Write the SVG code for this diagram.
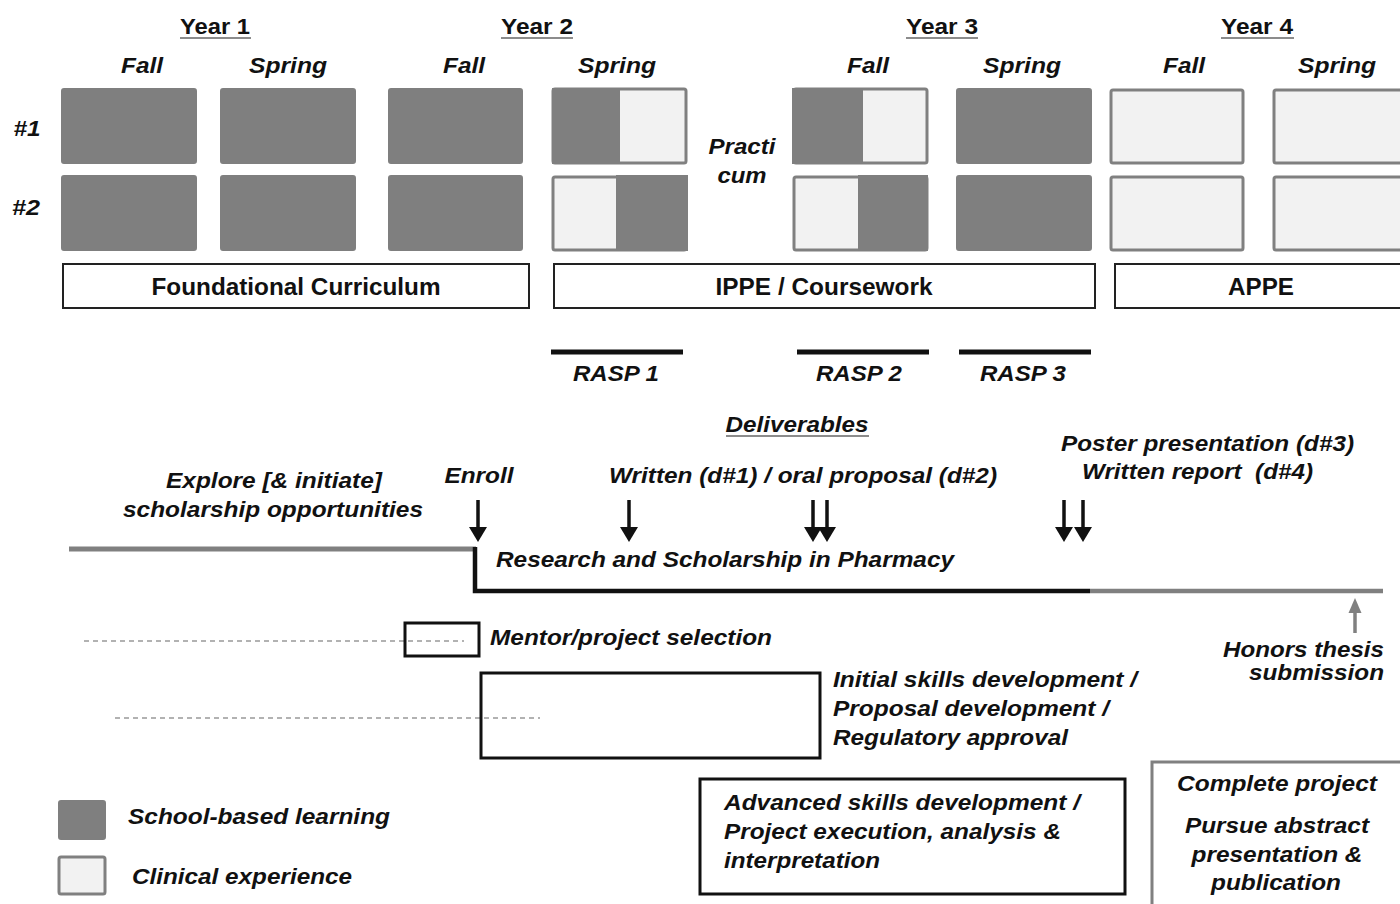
<svg xmlns="http://www.w3.org/2000/svg" width="1400" height="904" viewBox="0 0 1400 904">
<style>
text{font-family:"Liberation Sans",Arial,sans-serif;font-weight:bold;fill:#111;font-size:22.5px}
.i{font-style:italic}
.big{font-size:24px}
.dk{fill:#7f7f7f;stroke:#7f7f7f;stroke-width:2}
.lt{fill:#f2f2f2;stroke:#808080;stroke-width:3}
.ban{fill:#fff;stroke:#222;stroke-width:2}
.bx{fill:none;stroke:#111;stroke-width:3}
.ul{stroke:#666;stroke-width:1.5}
.dash{stroke:#999;stroke-width:1.5;stroke-dasharray:5,4}
</style>
<defs>
<marker id="ah" markerUnits="userSpaceOnUse" markerWidth="16" markerHeight="20" viewBox="0 -10 16 20" refX="0" refY="0" orient="auto"><path d="M0,-9 L15,0 L0,9 z" fill="#111"/></marker>
<marker id="ahg" markerUnits="userSpaceOnUse" markerWidth="16" markerHeight="16" viewBox="0 -8 16 16" refX="0" refY="0" orient="auto"><path d="M0,-6.5 L15,0 L0,6.5 z" fill="#808080"/></marker>
</defs>

<g id="headers">
<text x="215" y="34" text-anchor="middle" textLength="70" lengthAdjust="spacingAndGlyphs">Year 1</text>
<line class="ul" x1="180" y1="38" x2="251" y2="38"/>
<text x="537" y="34" text-anchor="middle" textLength="72" lengthAdjust="spacingAndGlyphs">Year 2</text>
<line class="ul" x1="501" y1="38" x2="573" y2="38"/>
<text x="942" y="34" text-anchor="middle" textLength="72" lengthAdjust="spacingAndGlyphs">Year 3</text>
<line class="ul" x1="906" y1="38" x2="978" y2="38"/>
<text x="1257" y="34" text-anchor="middle" textLength="72" lengthAdjust="spacingAndGlyphs">Year 4</text>
<line class="ul" x1="1221" y1="38" x2="1294" y2="38"/>
<text class="i" x="142" y="73" text-anchor="middle" textLength="42" lengthAdjust="spacingAndGlyphs">Fall</text>
<text class="i" x="288" y="73" text-anchor="middle" textLength="78" lengthAdjust="spacingAndGlyphs">Spring</text>
<text class="i" x="464" y="73" text-anchor="middle" textLength="42" lengthAdjust="spacingAndGlyphs">Fall</text>
<text class="i" x="617" y="73" text-anchor="middle" textLength="78" lengthAdjust="spacingAndGlyphs">Spring</text>
<text class="i" x="868" y="73" text-anchor="middle" textLength="42" lengthAdjust="spacingAndGlyphs">Fall</text>
<text class="i" x="1022" y="73" text-anchor="middle" textLength="78" lengthAdjust="spacingAndGlyphs">Spring</text>
<text class="i" x="1184" y="73" text-anchor="middle" textLength="42" lengthAdjust="spacingAndGlyphs">Fall</text>
<text class="i" x="1337" y="73" text-anchor="middle" textLength="78" lengthAdjust="spacingAndGlyphs">Spring</text>
<text class="i" x="27" y="136" text-anchor="middle" textLength="27" lengthAdjust="spacingAndGlyphs">#1</text>
<text class="i" x="26" y="215" text-anchor="middle" textLength="28" lengthAdjust="spacingAndGlyphs">#2</text>
<text class="i" x="742" y="154" text-anchor="middle" textLength="67" lengthAdjust="spacingAndGlyphs">Practi</text>
<text class="i" x="742" y="183" text-anchor="middle" textLength="49" lengthAdjust="spacingAndGlyphs">cum</text>
</g>

<g id="grid">
<rect class="dk" x="62" y="89" width="134" height="74" rx="2"/>
<rect class="dk" x="221" y="89" width="134" height="74" rx="2"/>
<rect class="dk" x="389" y="89" width="133" height="74" rx="2"/>
<rect class="lt" x="553" y="89" width="133" height="74" rx="2"/>
<rect fill="#7f7f7f" x="552" y="88" width="68" height="76"/>
<rect class="lt" x="794" y="89" width="133" height="74" rx="2"/>
<rect fill="#7f7f7f" x="792" y="88" width="71" height="76"/>
<rect class="dk" x="957" y="89" width="134" height="74" rx="2"/>
<rect class="lt" x="1111" y="90" width="132" height="73" rx="2"/>
<rect class="lt" x="1274" y="90" width="140" height="73" rx="2"/>

<rect class="dk" x="62" y="176" width="134" height="74" rx="2"/>
<rect class="dk" x="221" y="176" width="134" height="74" rx="2"/>
<rect class="dk" x="389" y="176" width="133" height="74" rx="2"/>
<rect class="lt" x="553" y="177" width="133" height="73" rx="2"/>
<rect fill="#7f7f7f" x="616" y="175" width="72" height="76"/>
<rect class="lt" x="794" y="177" width="133" height="73" rx="2"/>
<rect fill="#7f7f7f" x="858" y="175" width="70" height="76"/>
<rect class="dk" x="957" y="176" width="134" height="74" rx="2"/>
<rect class="lt" x="1111" y="177" width="132" height="73" rx="2"/>
<rect class="lt" x="1274" y="177" width="140" height="73" rx="2"/>
</g>

<g id="foundational">
<rect class="ban" x="63" y="264" width="466" height="44"/>
<text class="big" x="296" y="295" text-anchor="middle" textLength="289" lengthAdjust="spacingAndGlyphs">Foundational Curriculum</text>
</g>
<g id="ippe">
<rect class="ban" x="554" y="264" width="541" height="44"/>
<text class="big" x="824" y="295" text-anchor="middle" textLength="217" lengthAdjust="spacingAndGlyphs">IPPE / Coursework</text>
</g>
<g id="appe">
<rect class="ban" x="1115" y="264" width="300" height="44"/>
<text class="big" x="1261" y="295" text-anchor="middle" textLength="66" lengthAdjust="spacingAndGlyphs">APPE</text>
</g>

<g id="rasp">
<line x1="551" y1="352" x2="683" y2="352" stroke="#111" stroke-width="5"/>
<text class="i" x="616" y="381" text-anchor="middle" textLength="86" lengthAdjust="spacingAndGlyphs">RASP 1</text>
<line x1="797" y1="352" x2="929" y2="352" stroke="#111" stroke-width="5"/>
<text class="i" x="859" y="381" text-anchor="middle" textLength="86" lengthAdjust="spacingAndGlyphs">RASP 2</text>
<line x1="959" y1="352" x2="1091" y2="352" stroke="#111" stroke-width="5"/>
<text class="i" x="1023" y="381" text-anchor="middle" textLength="86" lengthAdjust="spacingAndGlyphs">RASP 3</text>
</g>

<g id="deliverables">
<text class="i" x="797" y="432" text-anchor="middle" textLength="143" lengthAdjust="spacingAndGlyphs">Deliverables</text>
<line class="ul" x1="726" y1="436" x2="869" y2="436"/>
<text class="i" x="609" y="483" textLength="388" lengthAdjust="spacingAndGlyphs">Written (d#1) / oral proposal (d#2)</text>
<text class="i" x="1061" y="451" textLength="293" lengthAdjust="spacingAndGlyphs">Poster presentation (d#3)</text>
<text class="i" x="1082" y="479" textLength="231" lengthAdjust="spacingAndGlyphs" xml:space="preserve">Written report  (d#4)</text>
</g>

<g id="explore">
<text class="i" x="274" y="488" text-anchor="middle" textLength="216" lengthAdjust="spacingAndGlyphs">Explore [&amp; initiate]</text>
<text class="i" x="273" y="517" text-anchor="middle" textLength="300" lengthAdjust="spacingAndGlyphs">scholarship opportunities</text>
</g>
<g id="enroll">
<text class="i" x="479" y="483" text-anchor="middle" textLength="69" lengthAdjust="spacingAndGlyphs">Enroll</text>
</g>

<g id="connectors">
<line x1="69" y1="549" x2="476" y2="549" stroke="#808080" stroke-width="5"/>
<polyline points="475,547 475,591 1090,591" fill="none" stroke="#111" stroke-width="4.5"/>
<line x1="1090" y1="591" x2="1383" y2="591" stroke="#808080" stroke-width="4.5"/>
<line x1="478" y1="500" x2="478" y2="527" stroke="#111" stroke-width="3.5" marker-end="url(#ah)"/>
<line x1="629" y1="500" x2="629" y2="527" stroke="#111" stroke-width="3.5" marker-end="url(#ah)"/>
<line x1="813" y1="500" x2="813" y2="527" stroke="#111" stroke-width="3.5" marker-end="url(#ah)"/>
<line x1="827" y1="500" x2="827" y2="527" stroke="#111" stroke-width="3.5" marker-end="url(#ah)"/>
<line x1="1064" y1="500" x2="1064" y2="527" stroke="#111" stroke-width="3.5" marker-end="url(#ah)"/>
<line x1="1083" y1="500" x2="1083" y2="527" stroke="#111" stroke-width="3.5" marker-end="url(#ah)"/>
<line x1="1355" y1="633" x2="1355" y2="613" stroke="#808080" stroke-width="3.5" marker-end="url(#ahg)"/>
<line class="dash" x1="84" y1="641" x2="464" y2="641"/>
<line class="dash" x1="115" y1="718" x2="540" y2="718"/>
</g>

<g id="rasp-label">
<text class="i" x="496" y="567" textLength="458" lengthAdjust="spacingAndGlyphs">Research and Scholarship in Pharmacy</text>
</g>

<g id="honors">
<text class="i" x="1384" y="657" text-anchor="end" textLength="161" lengthAdjust="spacingAndGlyphs">Honors thesis</text>
<text class="i" x="1384" y="680" text-anchor="end" textLength="135" lengthAdjust="spacingAndGlyphs">submission</text>
</g>

<g id="mentor">
<rect class="bx" x="405" y="623" width="74" height="33"/>
<text class="i" x="490" y="645" textLength="282" lengthAdjust="spacingAndGlyphs">Mentor/project selection</text>
</g>

<g id="initial">
<rect class="bx" x="481" y="673" width="339" height="85"/>
<text class="i" x="833" y="687" textLength="304" lengthAdjust="spacingAndGlyphs">Initial skills development /</text>
<text class="i" x="833" y="716" textLength="276" lengthAdjust="spacingAndGlyphs">Proposal development /</text>
<text class="i" x="833" y="745" textLength="235" lengthAdjust="spacingAndGlyphs">Regulatory approval</text>
</g>

<g id="advanced">
<rect class="bx" x="700" y="779" width="425" height="115"/>
<text class="i" x="724" y="810" textLength="356" lengthAdjust="spacingAndGlyphs">Advanced skills development /</text>
<text class="i" x="724" y="839" textLength="337" lengthAdjust="spacingAndGlyphs">Project execution, analysis &amp;</text>
<text class="i" x="724" y="868" textLength="156" lengthAdjust="spacingAndGlyphs">interpretation</text>
</g>

<g id="complete">
<rect x="1152" y="762" width="260" height="160" fill="none" stroke="#808080" stroke-width="3"/>
<text class="i" x="1277" y="791" text-anchor="middle" textLength="200" lengthAdjust="spacingAndGlyphs">Complete project</text>
<text class="i" x="1277" y="833" text-anchor="middle" textLength="184" lengthAdjust="spacingAndGlyphs">Pursue abstract</text>
<text class="i" x="1277" y="862" text-anchor="middle" textLength="171" lengthAdjust="spacingAndGlyphs">presentation &amp;</text>
<text class="i" x="1276" y="890" text-anchor="middle" textLength="130" lengthAdjust="spacingAndGlyphs">publication</text>
</g>

<g id="legend">
<rect class="dk" x="59" y="801" width="46" height="38" rx="2"/>
<text class="i" x="128" y="824" textLength="262" lengthAdjust="spacingAndGlyphs">School-based learning</text>
<rect class="lt" x="59" y="857" width="46" height="37" rx="2"/>
<text class="i" x="132" y="884" textLength="220" lengthAdjust="spacingAndGlyphs">Clinical experience</text>
</g>
</svg>
